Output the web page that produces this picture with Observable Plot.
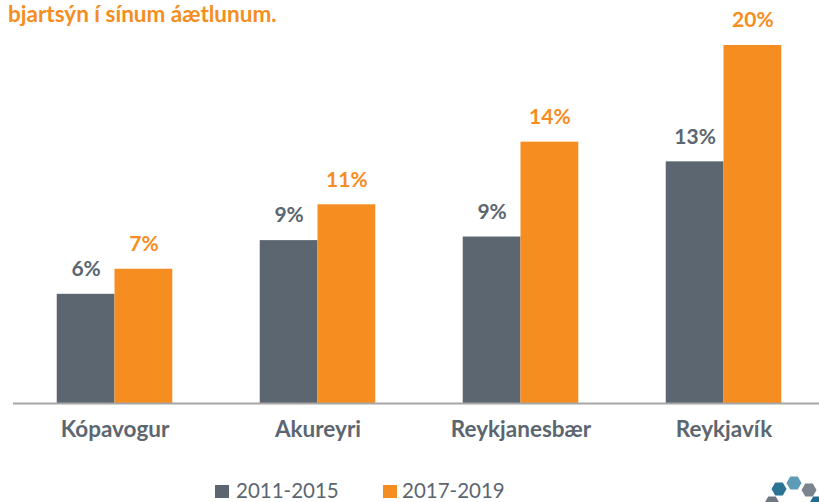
<!DOCTYPE html>
<html><head><meta charset="utf-8">
<script src="https://cdn.jsdelivr.net/npm/d3@7"></script>
<script src="https://cdn.jsdelivr.net/npm/@observablehq/plot@0.6"></script>
<style>
body{margin:0;background:#fff;}
#wrap{position:relative;width:819px;height:502px;overflow:hidden;font-family:Lato,sans-serif;}
#title{position:absolute;left:8px;top:0px;font-weight:700;font-size:22.5px;line-height:27px;color:#f68d20;white-space:nowrap;}
#chart{position:absolute;left:0;top:0;}
.leg{position:absolute;font-size:20.5px;color:#5c6670;line-height:20px;white-space:nowrap;}
.sw{position:absolute;width:14px;height:13px;}
#logo{position:absolute;left:740px;top:460px;}
</style></head>
<body><div id="wrap">
<div id="chart"></div>
<div id="title">bjartsýn í sínum áætlunum.</div>
<div id="legend"></div>
<svg id="logo" width="79" height="42"></svg>
</div>
<script>
const cities = ["Kópavogur", "Akureyri", "Reykjanesbær", "Reykjavík"];
const seriesNames = ["2011-2015", "2017-2019"];
const values2011 = [6.1, 9.1, 9.3, 13.5];
const values2017 = [7.5, 11.1, 14.6, 20.0];
const colors = ["#5c6670", "#f68d20"];

const data = cities.flatMap((c, i) => [
  {city: c, series: seriesNames[0], value: values2011[i]},
  {city: c, series: seriesNames[1], value: values2017[i]}
]);

const chart = Plot.plot({
  width: 819, height: 460,
  marginTop: 45, marginBottom: 57, marginLeft: 0, marginRight: 0,
  style: {background: "transparent", fontFamily: "Lato, sans-serif", overflow: "visible"},
  fx: {domain: cities, range: [11.1, 826], padding: 0, axis: null, label: null},
  x: {domain: seriesNames, paddingInner: 0, paddingOuter: 0.757, round: false, axis: null},
  y: {domain: [0, 20], axis: null},
  color: {domain: seriesNames, range: colors},
  marks: [
    Plot.barY(data, {fx: "city", x: "series", y: "value", fill: "series"}),
    Plot.ruleY([0], {stroke: "#a6a6a6", strokeWidth: 2}),
    Plot.text(data, {fx: "city", x: "series", y: "value", text: d => Math.floor(d.value) + "%",
      fill: "series", dy: -25, fontSize: 21, fontWeight: 700}),
    Plot.text(cities, {fx: d => d, text: d => d, frameAnchor: "bottom", dy: 33,
      fontSize: 22.5, fontWeight: 700, fill: "#5c6670"})
  ]
});
document.getElementById("chart").appendChild(chart);

// legend
const legend = document.getElementById("legend");
const legPos = [{sw: 215, tx: 236}, {sw: 383, tx: 402}];
seriesNames.forEach((s, i) => {
  const sw = document.createElement("div");
  sw.className = "sw";
  sw.style.left = legPos[i].sw + "px";
  sw.style.top = "485px";
  sw.style.background = colors[i];
  legend.appendChild(sw);
  const t = document.createElement("div");
  t.className = "leg";
  t.style.left = legPos[i].tx + "px";
  t.style.top = "480px";
  t.textContent = s;
  legend.appendChild(t);
});

// logo decoration
const logo = d3.select("#logo");
const hexes = [
  {cx: 39, cy: 29, c: "#2a7394"}, {cx: 54, cy: 23, c: "#5d9bb7"}, {cx: 69, cy: 30, c: "#7b838c"},
  {cx: 32, cy: 43, c: "#6f7780"}, {cx: 77, cy: 43, c: "#1f6c8c"}
];
hexes.forEach(h => {
  const r = 7.5;
  const pts = d3.range(6).map(k => {
    const a = Math.PI / 3 * k;
    return [h.cx + r * Math.cos(a), h.cy + r * Math.sin(a)].join(",");
  }).join(" ");
  logo.append("polygon").attr("points", pts).attr("fill", h.c);
});
</script>
</body></html>
